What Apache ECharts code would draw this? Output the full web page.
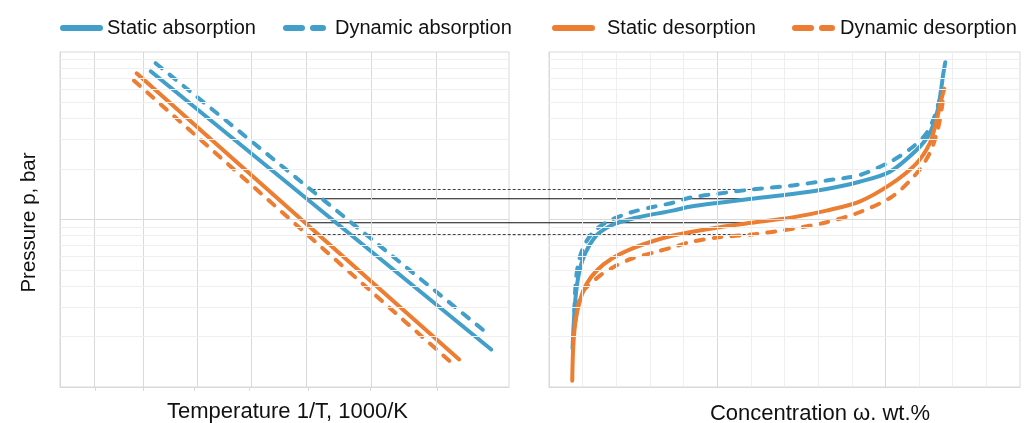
<!DOCTYPE html>
<html>
<head>
<meta charset="utf-8">
<script src="https://cdn.jsdelivr.net/npm/echarts@6/dist/echarts.min.js"></script>
<style>
html,body{margin:0;padding:0;background:#fff;}
#chart{width:1025px;height:423px;}
</style>
</head>
<body>
<div id="chart"></div>
<script>
// ---------------- DATA ----------------
const seriesNames = ['Static absorption', 'Dynamic absorption', 'Static desorption', 'Dynamic desorption'];

// Left panel: van 't Hoff lines, [1000/T, p bar]
const vh_staticAbs  = [[3.044, 76.7], [3.671, 1.675]];
const vh_dynamicAbs = [[3.053, 85.7], [3.667, 2.05]];
const vh_staticDes  = [[3.018, 74.6], [3.612, 1.46]];
const vh_dynamicDes = [[3.013, 67.6], [3.605, 1.33]];

// Right panel: isotherms, [concentration wt.%, p bar]
const iso_staticAbs = [[0.70,1.7],[0.74,2.49],[0.79,3.44],[0.87,4.53],[0.99,5.69],[1.17,6.84],[1.46,8.21],[1.96,9.43],[2.55,10.2],[3.15,10.8],[3.68,11.3],[4.18,11.9],[5.07,12.6],[6.02,13.3],[7.24,14.2],[8.25,15.2],[9.23,16.8],[10.12,19.2],[10.91,25.8],[11.31,32.5],[11.55,44.7],[11.65,58.9],[11.72,74.1],[11.78,86.9]];
const iso_dynamicAbs = [[0.74,2.2],[0.79,4.15],[0.89,5.69],[1.07,7.16],[1.36,8.6],[1.81,9.86],[2.45,11.05],[3.15,11.96],[3.69,12.6],[4.18,13.5],[5.07,14.3],[6.02,15.1],[7.24,15.96],[8.25,17.1],[9.23,18.4],[10.21,22.5],[10.8,27.0],[11.21,32.5],[11.45,40.8],[11.6,51.3]];
const iso_staticDes = [[0.69,1.09],[0.72,1.73],[0.79,2.49],[0.92,3.28],[1.12,4.13],[1.42,4.96],[1.86,5.83],[2.45,6.68],[3.15,7.49],[3.69,8.02],[4.18,8.40],[5.07,9.0],[6.02,9.56],[7.24,10.3],[8.25,11.3],[9.23,12.8],[10.15,16.2],[10.91,21.5],[11.31,28.3],[11.5,37.3],[11.63,49.1],[11.75,60.3]];
const iso_dynamicDes = [[0.76,2.3],[0.97,3.6],[1.46,4.53],[1.91,5.19],[2.45,5.83],[3.15,6.38],[3.69,6.84],[4.18,7.32],[5.07,7.84],[6.02,8.13],[7.24,8.8],[8.25,9.63],[9.23,11.05],[10.21,13.75],[10.91,18.7],[11.31,24.7],[11.55,34.0],[11.68,46.8],[11.72,53.7]];

// Connector lines (plateau pressures) from left panel to right panel
const linkInvT = 3.333;          // 1000/T where connectors start
const linkConc = 6;              // wt.% where connectors end
const linkP = [15.1, 13.3, 9.56, 8.13];
const linkDashed = [true, false, false, true];

// Axis ranges / grid lines
const leftInvTMin = 2.877, leftInvTMax = 3.7037;
const gridTempsK = [340, 330, 320, 310, 300, 290, 280, 270];
const rightConcMin = 0, rightConcMax = 14;
const concMajor = [5, 10];
const concMinor = [1, 2, 3, 4, 6, 7, 8, 9, 11, 12, 13];
const pMin = 1, pMax = 100;
const pMajor = [10];
const pMinor = [2, 3, 4, 5, 6, 7, 8, 9, 20, 30, 40, 50, 60, 70, 80, 90];

// ---------------- STYLE ----------------
const BLUE = '#429fc9', ORANGE = '#ed7d31';
const colors = [BLUE, BLUE, ORANGE, ORANGE];
const dashed = [false, true, false, true];
const FONT = '"Liberation Sans", Arial, sans-serif';
const MAJ = '#d9d9d9', MIN = '#efefef';

const invTGrid = gridTempsK.map(t => 1000 / t);

function gridSeries(xi, vLines, hLines) {
  return {
    type: 'line', xAxisIndex: xi, yAxisIndex: xi, data: [], z: 1, silent: true,
    markLine: {
      silent: true, symbol: ['none', 'none'], animation: false,
      label: { show: false }, emphasis: { disabled: true },
      data: vLines.map(v => ({ xAxis: v[0], lineStyle: { color: v[1], width: 1, type: 'solid' } }))
        .concat(hLines.map(h => ({ yAxis: h[0], lineStyle: { color: h[1], width: 1, type: 'solid' } })))
    }
  };
}

const hLines = pMinor.map(p => [p, MIN]).concat(pMajor.map(p => [p, MAJ]));
const leftV = invTGrid.slice(0, -1).map(v => [v, MAJ]);
const rightV = concMinor.map(v => [v, MIN]).concat(concMajor.map(v => [v, MAJ]));

function dataSeries(i, xi, data) {
  return {
    name: seriesNames[i], type: 'line', xAxisIndex: xi, yAxisIndex: xi,
    data: data, showSymbol: false, symbol: 'none', z: 2 + i * 0.1,
    smooth: xi === 1 ? 0.3 : false,
    lineStyle: { color: colors[i], width: 4, cap: 'round', join: 'round',
      type: dashed[i] ? [8, 10] : 'solid' },
    itemStyle: { color: colors[i] },
    animation: false, emphasis: { disabled: true }
  };
}

const legendLefts = [55, 278, 547, 787];
const legendPads = [2, 7, 10, 3];
const legends = seriesNames.map((n, i) => ({
  data: [n], left: legendLefts[i], top: 13, itemWidth: 37, itemHeight: 14, itemGap: 0,
  selectedMode: false,
  itemStyle: { opacity: 0 },
  lineStyle: { width: 6, cap: 'round', type: dashed[i] ? [16, 11] : 'solid' },
  textStyle: { fontFamily: FONT, fontSize: 20, color: '#111', padding: [0, 0, 0, legendPads[i]] }
}));

const option = {
  backgroundColor: '#fff',
  animation: false,
  legend: legends,
  grid: [
    { left: 60, right: 1025 - 509, top: 52, bottom: 423 - 387, show: true, borderColor: MAJ, borderWidth: 1,
      containLabel: false, outerBoundsMode: 'none' },
    { left: 549, right: 1025 - 1020, top: 52, bottom: 423 - 387, show: true, borderColor: MAJ, borderWidth: 1,
      containLabel: false, outerBoundsMode: 'none' }
  ],
  xAxis: [
    { type: 'value', gridIndex: 0, min: leftInvTMin, max: leftInvTMax,
      name: 'Temperature 1/T, 1000/K', nameLocation: 'middle', nameGap: 14,
      nameTextStyle: { fontFamily: FONT, fontSize: 22, color: '#111', padding: [0, 0, 0, 6] },
      axisLine: { show: true, lineStyle: { color: MAJ, width: 1 } },
      axisTick: { show: true, length: 4, lineStyle: { color: MAJ }, customValues: invTGrid },
      axisLabel: { show: false }, splitLine: { show: false } },
    { type: 'value', gridIndex: 1, min: rightConcMin, max: rightConcMax,
      name: 'Concentration ω. wt.%', nameLocation: 'middle', nameGap: 16,
      nameTextStyle: { fontFamily: FONT, fontSize: 22, color: '#111', padding: [0, 0, 0, 71] },
      axisLine: { show: true, lineStyle: { color: MAJ, width: 1 } },
      axisTick: { show: false }, axisLabel: { show: false }, splitLine: { show: false } }
  ],
  yAxis: [
    { type: 'log', logBase: 10, gridIndex: 0, min: pMin, max: pMax,
      name: 'Pressure p, bar', nameLocation: 'middle', nameGap: 20,
      nameTextStyle: { fontFamily: FONT, fontSize: 20.5, color: '#111', padding: [0, 6, 0, 0] },
      axisLine: { show: true, lineStyle: { color: MAJ, width: 1 } },
      axisTick: { show: false }, axisLabel: { show: false }, splitLine: { show: false } },
    { type: 'log', logBase: 10, gridIndex: 1, min: pMin, max: pMax,
      axisLine: { show: true, lineStyle: { color: MAJ, width: 1 } },
      axisTick: { show: false }, axisLabel: { show: false }, splitLine: { show: false } }
  ],
  series: [
    gridSeries(0, leftV, hLines),
    gridSeries(1, rightV, hLines),
    dataSeries(0, 0, vh_staticAbs),
    dataSeries(1, 0, vh_dynamicAbs),
    dataSeries(2, 0, vh_staticDes),
    dataSeries(3, 0, vh_dynamicDes),
    dataSeries(0, 1, iso_staticAbs),
    dataSeries(1, 1, iso_dynamicAbs),
    dataSeries(2, 1, iso_staticDes),
    dataSeries(3, 1, iso_dynamicDes)
  ]
};

const chart = echarts.init(document.getElementById('chart'), null, { renderer: 'canvas' });
chart.setOption(option);

// Connectors across both panels, positioned through each panel's own scales
const linkGraphics = linkP.map((p, i) => {
  const a = chart.convertToPixel({ gridIndex: 0 }, [linkInvT, p]);
  const b = chart.convertToPixel({ gridIndex: 1 }, [linkConc, p]);
  return {
    type: 'line', z: 1.5, silent: true,
    shape: { x1: a[0], y1: a[1], x2: b[0], y2: b[1] },
    style: { stroke: linkDashed[i] ? '#444' : '#111', lineWidth: 1.2,
      lineDash: linkDashed[i] ? [3, 2] : null }
  };
});
chart.setOption({ graphic: linkGraphics });
</script>
</body>
</html>
